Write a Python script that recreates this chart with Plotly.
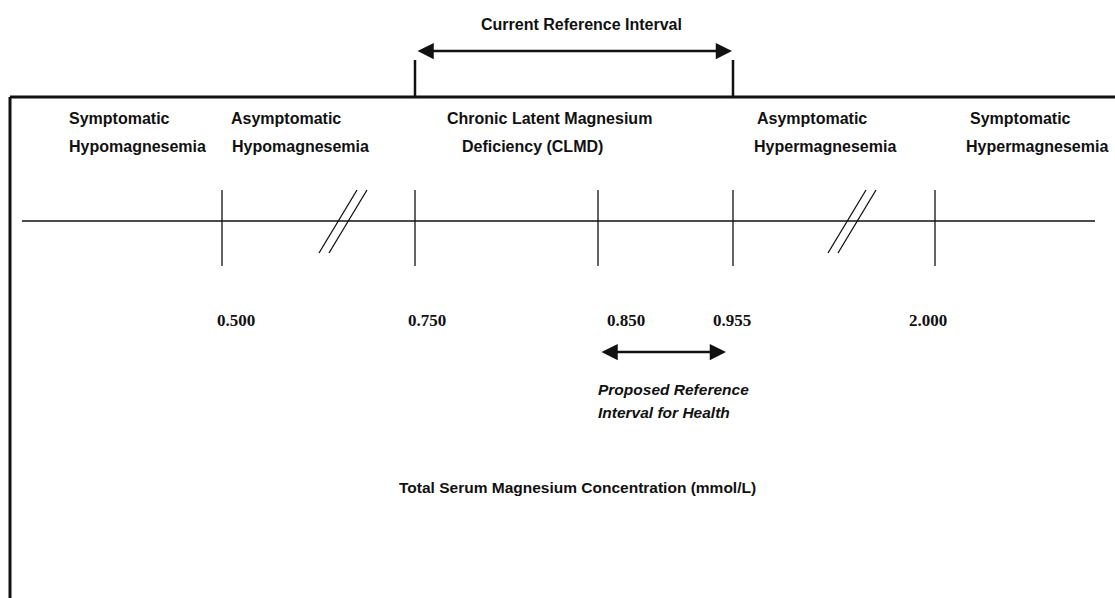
import plotly.graph_objects as go

# ---------------- data ----------------
cutoffs = [0.500, 0.750, 0.850, 0.955, 2.000]
tick_labels = ["0.500", "0.750", "0.850", "0.955", "2.000"]
zone_labels = [
    "Symptomatic<br>Hypomagnesemia",
    "Asymptomatic<br>Hypomagnesemia",
    "Chronic Latent Magnesium<br>Deficiency (CLMD)",
    "Asymptomatic<br>Hypermagnesemia",
    "Symptomatic<br>Hypermagnesemia",
]
current_interval = [0.750, 0.955]
proposed_interval = [0.850, 0.955]
current_label = "Current Reference Interval"
proposed_label = "Proposed Reference<br>Interval for Health"
axis_title = "Total Serum Magnesium Concentration (mmol/L)"

# ---------------- layout (schematic, broken axis) ----------------
W, H = 1115, 598
tick_x = [222, 415, 598, 733, 935]          # display slot of each cutoff
label_x = [236, 427, 626, 732, 928]         # tick-label centres
pos = dict(zip(cutoffs, tick_x))
break_x = [343, 852]                         # axis-break marks
axis_y, tick_top, tick_bot = 221, 190, 266
axis_x0, axis_x1 = 22, 1095
frame_y, frame_x = 97, 10
zone_line1_x = [67, 229, 445, 755, 968]
zone_line2_x = [67, 230, 460, 752, 964]
zone_y = [118, 146]
proposed_y = [389, 412]

SANS = "Liberation Sans, Arial, sans-serif"
SERIF = "Liberation Serif, Times New Roman, serif"
BLACK = "#111111"

fig = go.Figure()

def seg(x0, y0, x1, y1, w=1.5):
    fig.add_trace(go.Scatter(x=[x0, x1], y=[y0, y1], mode="lines",
                             line=dict(color=BLACK, width=w),
                             hoverinfo="skip", showlegend=False))

# frame (top + left)
seg(frame_x, frame_y, W + 5, frame_y, 3)
seg(frame_x, frame_y, frame_x, H + 5, 3)

# current reference bracket
for v in current_interval:
    seg(pos[v], 60, pos[v], frame_y, 2.5)

# main axis line and ticks
seg(axis_x0, axis_y, axis_x1, axis_y, 1.5)
for v in cutoffs:
    seg(pos[v], tick_top, pos[v], tick_bot, 1.3)

# axis-break marks
for bx in break_x:
    for dx in (-5, 5):
        seg(bx + dx - 19, axis_y + 32, bx + dx + 19, axis_y - 31, 1.3)

# tick labels
fig.add_trace(go.Scatter(
    x=label_x, y=[322] * len(cutoffs), mode="text",
    text=["<b>" + t + "</b>" for t in tick_labels],
    textfont=dict(family=SERIF, size=17, color=BLACK),
    hoverinfo="skip", showlegend=False))

annotations = []
# zone labels
for i, lab in enumerate(zone_labels):
    l1, l2 = lab.split("<br>")
    for txt, x, y in ((l1, zone_line1_x[i], zone_y[0]), (l2, zone_line2_x[i], zone_y[1])):
        annotations.append(dict(x=x, y=y, xref="x", yref="y", text="<b>" + txt + "</b>",
                                showarrow=False, xanchor="left", yanchor="middle",
                                font=dict(family=SANS, size=16, color=BLACK)))

# current interval arrow + label
annotations.append(dict(x=pos[current_interval[1]] - 1, y=51, ax=pos[current_interval[0]] + 1, ay=51,
                        xref="x", yref="y", axref="x", ayref="y", text="",
                        showarrow=True, arrowhead=2, startarrowhead=2, arrowside="end+start",
                        arrowwidth=2.5, arrowsize=1.3, startarrowsize=1.3,
                        arrowcolor=BLACK, standoff=0, startstandoff=0))
annotations.append(dict(x=581, y=24, xref="x", yref="y", text="<b>" + current_label + "</b>",
                        showarrow=False, font=dict(family=SANS, size=16, color=BLACK)))

# proposed interval arrow + label
annotations.append(dict(x=pos[proposed_interval[1]] - 7, y=352, ax=pos[proposed_interval[0]] + 2, ay=352,
                        xref="x", yref="y", axref="x", ayref="y", text="",
                        showarrow=True, arrowhead=2, startarrowhead=2, arrowside="end+start",
                        arrowwidth=2.5, arrowsize=1.3, startarrowsize=1.3,
                        arrowcolor=BLACK, standoff=0, startstandoff=0))
for txt, y in zip(proposed_label.split("<br>"), proposed_y):
    annotations.append(dict(x=596, y=y, xref="x", yref="y",
                            text="<b><i>" + txt + "</i></b>", showarrow=False,
                            xanchor="left", yanchor="middle", align="left",
                            font=dict(family=SANS, size=15.5, color=BLACK)))

# axis title
annotations.append(dict(x=577, y=487, xref="x", yref="y", text="<b>" + axis_title + "</b>",
                        showarrow=False, font=dict(family=SANS, size=15.5, color=BLACK)))

fig.update_layout(
    width=W, height=H, margin=dict(l=0, r=0, t=0, b=0),
    paper_bgcolor="white", plot_bgcolor="white",
    xaxis=dict(range=[0, W], visible=False, fixedrange=True),
    yaxis=dict(range=[H, 0], visible=False, fixedrange=True),
    annotations=annotations, showlegend=False,
)

fig.write_html("out.html", config={"displayModeBar": False},
               post_script="document.body.style.margin='0px';document.body.style.overflow='hidden';")
